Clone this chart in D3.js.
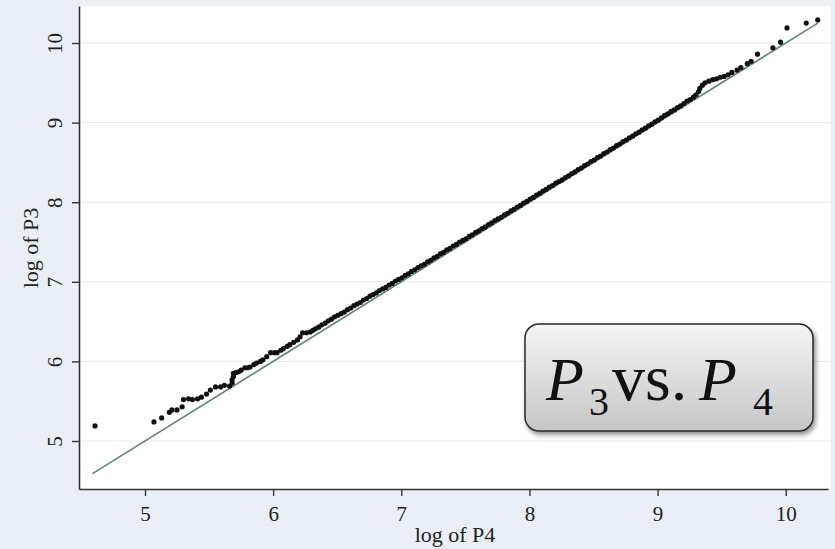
<html>
<script src='https://d3js.org/d3.v7.min.js'></script>
<style>
  body {margin: 0; background: #e9eff4;}
  text {font-family: 'Liberation Serif', 'Times New Roman', Times, serif; fill: #222;}
</style>
<body onload='init()'>
<svg width=835 height=549>
</svg>
<script>
// tick values
var xTicks = [5, 6, 7, 8, 9, 10];
var yTicks = [5, 6, 7, 8, 9, 10];

// reference line y = x
var refLine = [[4.59, 4.59], [10.25, 10.25]];

// [log of P4, log of P3] pairs
var lowTail = [
  [4.61, 5.19], [5.07, 5.24], [5.13, 5.29], [5.19, 5.36], [5.21, 5.39], [5.25, 5.39],
  [5.29, 5.43], [5.30, 5.52], [5.34, 5.53], [5.37, 5.52], [5.41, 5.53], [5.44, 5.55],
  [5.48, 5.59], [5.51, 5.64], [5.55, 5.68], [5.59, 5.68], [5.62, 5.70], [5.66, 5.69],
  [5.68, 5.73], [5.68, 5.77], [5.69, 5.81], [5.69, 5.85], [5.71, 5.86], [5.73, 5.87],
  [5.75, 5.89], [5.78, 5.92], [5.80, 5.92], [5.82, 5.93], [5.85, 5.96], [5.87, 5.98],
  [5.90, 6.00], [5.92, 6.02], [5.95, 6.06], [5.98, 6.11], [6.01, 6.11], [6.03, 6.11],
  [6.06, 6.14], [6.08, 6.16], [6.11, 6.19], [6.13, 6.21], [6.16, 6.24], [6.19, 6.27],
  [6.21, 6.31], [6.23, 6.36], [6.26, 6.36], [6.29, 6.37], [6.31, 6.39]
];

var body = [
  [6.33, 6.41], [6.355, 6.43], [6.38, 6.46], [6.405, 6.48], [6.43, 6.51], [6.455, 6.53],
  [6.48, 6.56], [6.505, 6.58], [6.53, 6.60], [6.555, 6.62], [6.58, 6.65], [6.605, 6.67],
  [6.63, 6.70], [6.655, 6.72], [6.68, 6.74], [6.705, 6.77], [6.73, 6.79], [6.755, 6.82],
  [6.78, 6.84], [6.805, 6.86], [6.83, 6.89], [6.855, 6.91], [6.88, 6.93], [6.905, 6.96],
  [6.93, 6.98], [6.955, 7.01], [6.98, 7.03], [7.005, 7.05], [7.03, 7.08], [7.055, 7.10],
  [7.08, 7.13], [7.105, 7.15], [7.13, 7.18], [7.155, 7.20], [7.18, 7.22], [7.205, 7.25],
  [7.23, 7.27], [7.255, 7.30], [7.28, 7.32], [7.305, 7.35], [7.33, 7.37], [7.355, 7.40],
  [7.38, 7.42], [7.405, 7.45], [7.43, 7.47], [7.455, 7.50], [7.48, 7.52], [7.505, 7.54],
  [7.53, 7.57], [7.555, 7.59], [7.58, 7.62], [7.605, 7.64], [7.63, 7.67], [7.655, 7.69],
  [7.68, 7.72], [7.705, 7.74], [7.73, 7.77], [7.755, 7.79], [7.78, 7.81], [7.805, 7.84],
  [7.83, 7.86], [7.855, 7.89], [7.88, 7.91], [7.905, 7.94], [7.93, 7.96], [7.955, 7.99],
  [7.98, 8.01], [8.005, 8.04], [8.03, 8.06], [8.055, 8.09], [8.08, 8.11], [8.105, 8.14],
  [8.13, 8.16], [8.155, 8.19], [8.18, 8.21], [8.205, 8.24], [8.23, 8.26], [8.255, 8.28],
  [8.28, 8.31], [8.305, 8.33], [8.33, 8.36], [8.355, 8.38], [8.38, 8.41], [8.405, 8.43],
  [8.43, 8.46], [8.455, 8.48], [8.48, 8.51], [8.505, 8.53], [8.53, 8.56], [8.555, 8.58],
  [8.58, 8.61], [8.605, 8.63], [8.63, 8.66], [8.655, 8.68], [8.68, 8.71], [8.705, 8.73],
  [8.73, 8.76], [8.755, 8.78], [8.78, 8.81], [8.805, 8.83], [8.83, 8.86], [8.855, 8.88],
  [8.88, 8.91], [8.905, 8.93], [8.93, 8.96], [8.955, 8.98], [8.98, 9.01], [9.005, 9.03],
  [9.03, 9.06], [9.055, 9.09], [9.08, 9.11], [9.105, 9.14], [9.13, 9.16], [9.155, 9.19],
  [9.18, 9.21], [9.205, 9.24], [9.23, 9.27], [9.255, 9.29], [9.28, 9.32], [9.30, 9.35],
  [9.32, 9.39], [9.33, 9.43], [9.35, 9.47], [9.37, 9.50]
];

var highTail = [
  [9.40, 9.52], [9.43, 9.54], [9.46, 9.55], [9.49, 9.57], [9.52, 9.58], [9.55, 9.60],
  [9.58, 9.63], [9.62, 9.66], [9.65, 9.69], [9.70, 9.74], [9.73, 9.77], [9.78, 9.86],
  [9.90, 9.94], [9.96, 10.01], [10.01, 10.19], [10.16, 10.25], [10.25, 10.29]
];

function init() {
  var svg = d3.select('svg');

  var x = d3.scaleLinear().domain([4.485, 10.33]).range([79, 828]);
  var y = d3.scaleLinear().domain([4.397, 10.465]).range([489, 6]);

  // page background + white plot region
  svg.append('rect').attr('width', 835).attr('height', 549).attr('fill', '#e9eff4');
  svg.append('rect')
    .attr('x', 79).attr('y', 6)
    .attr('width', 752).attr('height', 483)
    .attr('fill', '#ffffff');

  // horizontal grid
  svg.append('g')
    .selectAll('line')
    .data(yTicks)
    .enter()
    .append('line')
    .attr('x1', 80).attr('x2', 831)
    .attr('y1', d => y(d)).attr('y2', d => y(d))
    .attr('stroke', '#ebebeb')
    .attr('stroke-width', 1.2);

  // 45 degree line
  svg.append('path')
    .attr('d', d3.line().x(d => x(d[0])).y(d => y(d[1]))(refLine))
    .attr('fill', 'none')
    .attr('stroke', '#5f857a')
    .attr('stroke-width', 1.6);

  var pts = lowTail.concat(body, highTail);
  svg.append('g')
    .selectAll('circle')
    .data(pts)
    .enter()
    .append('circle')
    .attr('cx', d => x(d[0]))
    .attr('cy', d => y(d[1]))
    .attr('r', 2.6)
    .attr('fill', '#111');

  // axes
  var yAxis = svg.append('g')
    .attr('transform', 'translate(79,0)')
    .call(d3.axisLeft(y).tickValues(yTicks).tickFormat(d3.format('d')).tickSize(7).tickSizeOuter(0));
  yAxis.selectAll('text')
    .attr('transform', 'rotate(-90)')
    .attr('x', 0).attr('y', -17).attr('dy', 0)
    .attr('text-anchor', 'middle')
    .style('font-size', '21px');

  var xAxis = svg.append('g')
    .attr('transform', 'translate(0,489)')
    .call(d3.axisBottom(x).tickValues(xTicks).tickFormat(d3.format('d')).tickSize(7).tickSizeOuter(0));
  xAxis.selectAll('text')
    .attr('y', 32).attr('dy', 0)
    .style('font-size', '21px');

  svg.selectAll('.domain').attr('stroke', '#333').attr('stroke-width', 1.6);
  svg.selectAll('.tick line').attr('stroke', '#333').attr('stroke-width', 1.4);
  svg.selectAll('.tick text').attr('fill', '#111').style('font-family', "'Liberation Serif', 'Times New Roman', serif");

  // axis titles
  svg.append('text')
    .attr('x', 455).attr('y', 542)
    .attr('text-anchor', 'middle')
    .style('font-size', '22px')
    .text('log of P4');

  svg.append('text')
    .attr('transform', 'translate(38,248) rotate(-90)')
    .attr('text-anchor', 'middle')
    .style('font-size', '22px')
    .text('log of P3');

  // label box
  var defs = svg.append('defs');
  var grad = defs.append('linearGradient').attr('id', 'boxfill')
    .attr('x1', 0).attr('y1', 0).attr('x2', 0).attr('y2', 1);
  grad.append('stop').attr('offset', '0%').attr('stop-color', '#f5f5f5');
  grad.append('stop').attr('offset', '100%').attr('stop-color', '#c6c6c6');
  var shadow = defs.append('filter').attr('id', 'shadow')
    .attr('x', '-10%').attr('y', '-10%').attr('width', '130%').attr('height', '140%');
  shadow.append('feDropShadow')
    .attr('dx', 2).attr('dy', 3).attr('stdDeviation', 2.5)
    .attr('flood-color', '#000').attr('flood-opacity', 0.45);

  svg.append('rect')
    .attr('x', 525).attr('y', 324)
    .attr('width', 288).attr('height', 107)
    .attr('rx', 14).attr('ry', 14)
    .attr('fill', 'url(#boxfill)')
    .attr('stroke', '#2a2a2a')
    .attr('stroke-width', 1.5)
    .attr('filter', 'url(#shadow)');

  var lab = svg.append('text')
    .attr('y', 400)
    .style('font-size', '62px')
    .style('fill', '#111');
  lab.append('tspan').attr('x', 546).style('font-style', 'italic').text('P');
  lab.append('tspan').attr('x', 589).attr('y', 415).style('font-size', '40px').text('3');
  lab.append('tspan').attr('x', 612).attr('y', 400).style('font-size', '66px').text('vs.');
  lab.append('tspan').attr('x', 699).style('font-style', 'italic').text('P');
  lab.append('tspan').attr('x', 753).attr('y', 415).style('font-size', '40px').text('4');
}
</script>
</body>
</html>
